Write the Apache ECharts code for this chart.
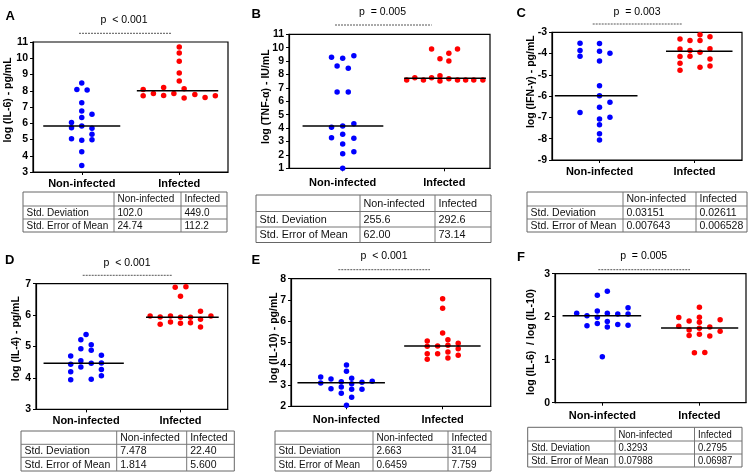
<!DOCTYPE html>
<html><head><meta charset="utf-8">
<script src="https://cdn.jsdelivr.net/npm/echarts@6/dist/echarts.min.js"></script>
<style>html,body{margin:0;padding:0;background:#fff}#c{width:750px;height:475px}</style>
</head><body><div id="c"></div>
<script>
// ---------------- DATA ----------------
const categories = ['Non-infected', 'Infected'];
const panelLetters = ['A', 'B', 'C', 'D', 'E', 'F'];
const yAxisNames = ['log (IL-6) - pg/mL', 'log (TNF-\u03b1) - IU/mL', 'log (IFN-\u03b3) - pg/mL',
                    'log (IL-4) - pg/mL', 'log (IL-10) - pg/mL', 'log (IL-6)  / log (IL-10)'];
const pValues = ['p  < 0.001', 'p  = 0.005', 'p  = 0.003', 'p  < 0.001', 'p  < 0.001', 'p  = 0.005'];
const yRanges = [[3, 11], [1, 11], [-9, -3], [3, 7], [2, 8], [0, 3]];

// each point: [jitter from group centre (axis units), value]
const A_nonInfected = [[0,8.48],[-0.10,8.08],[0.11,8.04],[0,7.26],[0,6.75],[0,6.36],[0.21,6.56],[-0.21,6.05],[-0.21,5.72],[0,5.83],[0.21,5.69],[0.21,5.32],[-0.21,5.05],[0,4.95],[0.21,4.99],[0,4.25],[0,3.40]];
const A_infected = [[0,10.69],[0,10.33],[0,9.82],[0,9.10],[0,8.60],[-0.74,8.08],[-0.74,7.69],[-0.53,7.83],[-0.32,8.20],[-0.32,7.71],[-0.11,7.83],[0.10,8.12],[0.10,7.55],[0.32,7.77],[0.53,7.59],[0.74,7.69]];
const B_nonInfected = [[-0.22,9.28],[0,9.21],[0.22,9.40],[-0.11,8.63],[0.11,8.46],[-0.11,6.69],[0.11,6.69],[-0.22,4.06],[0,4.16],[0.22,4.33],[-0.22,3.28],[0,3.54],[0.22,3.24],[0,2.81],[0,2.09],[0.22,2.24],[0,1.0]];
const B_infected = [[-0.25,9.90],[0.26,9.90],[0.09,9.58],[-0.085,9.18],[0.09,9.01],[-0.74,7.59],[-0.58,7.76],[-0.41,7.59],[-0.25,7.76],[-0.085,7.91],[-0.085,7.51],[0.09,7.69],[0.26,7.59],[0.42,7.59],[0.58,7.59],[0.76,7.59]];
const C_nonInfected = [[-0.41,-3.52],[0,-3.53],[-0.41,-3.86],[0,-3.89],[0.22,-3.99],[-0.41,-4.13],[0,-4.35],[0,-5.51],[0,-5.98],[0.22,-6.29],[0,-6.52],[-0.41,-6.77],[0.22,-6.99],[0,-7.07],[0,-7.34],[0,-7.77],[0,-8.06]];
const C_infected = [[0.116,-3.11],[0.326,-3.21],[-0.305,-3.31],[-0.095,-3.38],[0.116,-3.39],[-0.305,-3.78],[-0.095,-3.85],[0.326,-3.77],[0.116,-3.94],[-0.305,-4.14],[-0.095,-4.13],[0.326,-4.25],[-0.305,-4.46],[0.326,-4.58],[0.116,-4.64],[-0.305,-4.78]];
const D_nonInfected = [[0,5.38],[-0.11,5.22],[0.11,5.06],[-0.11,4.93],[0.11,4.88],[-0.325,4.70],[0.325,4.72],[-0.11,4.55],[-0.11,4.35],[-0.325,4.44],[0.11,4.47],[0.325,4.48],[0.325,4.27],[-0.325,4.20],[0.325,4.07],[-0.325,3.94],[0.11,3.96]];
const D_infected = [[-0.112,6.89],[0.115,6.90],[0,6.60],[-0.643,5.97],[-0.43,5.94],[-0.212,5.97],[0,5.93],[0.212,5.93],[0.424,6.12],[0.424,5.87],[0.645,5.97],[-0.43,5.71],[-0.212,5.78],[0,5.74],[0.212,5.76],[0.424,5.62]];
const E_nonInfected = [[0,3.94],[0,3.65],[-0.536,3.38],[-0.322,3.28],[0.108,3.32],[0.536,3.18],[-0.536,3.10],[-0.108,3.16],[0.322,3.13],[0.108,3.06],[-0.322,2.83],[-0.108,2.91],[0.108,2.80],[0.322,2.80],[-0.108,2.61],[0.108,2.42],[0,2.05]];
const E_infected = [[0,7.06],[0,6.61],[0,5.45],[-0.32,5.07],[0.11,5.13],[0.324,4.96],[-0.32,4.82],[-0.104,4.84],[0.11,4.87],[0.324,4.71],[-0.32,4.47],[-0.104,4.47],[0.11,4.55],[0.324,4.40],[-0.32,4.21],[0.11,4.27]];
const F_nonInfected = [[0.103,2.59],[-0.103,2.50],[-0.528,2.08],[-0.316,2.02],[-0.103,2.13],[-0.103,1.99],[0.103,2.08],[0.318,2.06],[0.53,2.21],[0.53,2.06],[-0.316,1.79],[-0.103,1.84],[0.103,1.89],[0.103,1.76],[0.318,1.82],[0.53,1.80],[0,1.07]];
const F_infected = [[0,2.22],[-0.425,1.98],[0,1.99],[-0.212,1.90],[0.427,1.93],[0,1.87],[-0.425,1.78],[-0.212,1.69],[0,1.73],[0.214,1.76],[0.427,1.66],[-0.212,1.56],[0,1.59],[0.214,1.55],[-0.103,1.16],[0.111,1.17]];

const nonInfectedMedians = [5.83, 4.16, -5.98, 4.47, 3.11, 2.02];
const infectedMedians = [8.00, 7.72, -3.89, 5.93, 4.84, 1.74];

const tableRowNames = ['Std. Deviation', 'Std. Error of Mean'];
const stdDeviation = [['102.0','449.0'],['255.6','292.6'],['0.03151','0.02611'],['7.478','22.40'],['2.663','31.04'],['0.3293','0.2795']];
const stdErrorOfMean = [['24.74','112.2'],['62.00','73.14'],['0.007643','0.006528'],['1.814','5.600'],['0.6459','7.759'],['0.07988','0.06987']];

const nonInfectedSets = [A_nonInfected, B_nonInfected, C_nonInfected, D_nonInfected, E_nonInfected, F_nonInfected];
const infectedSets = [A_infected, B_infected, C_infected, D_infected, E_infected, F_infected];

// ---------------- LAYOUT ----------------
const layout = [
  {grid:[33,42,195,130], xr:[0,4], lab:6.5, letter:[5.5,16], p:[124,20.5], dash:[79,171,33.3], yname:[7.8,100],
   spans:[[-0.79,0.79],[-0.87,0.8]], tb:{x:[23,114,181,227], y:[192,206,219,232], fs:10, sx:1}},
  {grid:[289,34.3,201,134], xr:[-0.057,3.9], lab:9.5, letter:[251.5,14.2], p:[382.5,12.2], dash:[335,431.7,25], yname:[266.2,96.7],
   spans:[[-0.79,0.8],[-0.79,0.82]], tb:{x:[256,360,435,491], y:[195,211.5,227,242.5], fs:11.5, sx:0.94}},
  {grid:[552,32.3,190,127.7], xr:[0,4], lab:6, letter:[516.5,13.8], p:[637,11.7], dash:[592.7,682.7,24], yname:[531,81.7],
   spans:[[-0.94,0.8],[-0.6,0.8]], tb:{x:[527,623,696,747], y:[192,206,219,232], fs:10.5, sx:1}},
  {grid:[36,283.7,191.7,125.7], xr:[-0.06,4], lab:6, letter:[5,260.3], p:[127,262.8], dash:[82.7,171.7,275.3], yname:[16.2,338.7],
   spans:[[-0.9,0.8],[-0.73,0.81]], tb:{x:[21,116.7,186.7,234.3], y:[431,444.3,457.3,471], fs:10.5, sx:1}},
  {grid:[291,278.7,199.7,127.6], xr:[-0.154,4], lab:8, letter:[251.5,260.8], p:[384,256.5], dash:[338.3,430,269.7], yname:[274,337.8],
   spans:[[-1.02,0.8],[-0.8,0.79]], tb:{x:[275,373,448,491], y:[431,444.3,457.3,471], fs:10.5, sx:0.95}},
  {grid:[555,273.7,191,129], xr:[0.025,3.96], lab:7.5, letter:[517,257], p:[643.7,256.2], dash:[598.3,690,269.7], yname:[531,342],
   spans:[[-0.82,0.8],[-0.79,0.8]], tb:{x:[527.7,615,694.5,742], y:[427.3,441,454,467], fs:11, sx:0.86}}
];

const FONT = '"Liberation Sans", Arial, Helvetica, sans-serif';
const BLUE = '#0000ff', RED = '#ff0000';
const centers = [1, 3];

const grids = [], xAxes = [], yAxes = [], series = [], graphics = [];

function txt(x, y, text, font, align, valign, extra, fill) {
  return Object.assign({
    type: 'text', x: x, y: y, silent: true,
    style: { x: 0, y: 0, text: text, font: font, fill: fill || '#000',
             align: align, verticalAlign: valign, textAlign: align, textVerticalAlign: valign }
  }, extra || {});
}

layout.forEach((L, i) => {
  grids.push({ left: L.grid[0], top: L.grid[1], width: L.grid[2], height: L.grid[3],
               show: true, borderColor: '#000', borderWidth: 1.2, backgroundColor: 'transparent', containLabel: false });
  xAxes.push({
    gridIndex: i, type: 'value', min: L.xr[0], max: L.xr[1],
    axisLine: { show: true, onZero: false, lineStyle: { color: '#000', width: 1.2 } },
    axisTick: { show: true, customValues: centers, length: 3, lineStyle: { color: '#000', width: 1 } },
    axisLabel: { show: true, customValues: centers, margin: L.lab,
                 formatter: v => categories[v < 2 ? 0 : 1],
                 fontFamily: FONT, fontWeight: 'bold', fontSize: 11, color: '#000' },
    splitLine: { show: false }
  });
  yAxes.push({
    gridIndex: i, type: 'value', min: yRanges[i][0], max: yRanges[i][1], interval: 1,
    axisLine: { show: true, onZero: false, lineStyle: { color: '#000', width: 1.2 } },
    axisTick: { show: true, length: 3, lineStyle: { color: '#000', width: 1 } },
    axisLabel: { margin: 5, fontFamily: FONT, fontWeight: 'bold', fontSize: 10.5, color: '#000' },
    splitLine: { show: false }
  });
  const groups = [nonInfectedSets[i], infectedSets[i]];
  const meds = [nonInfectedMedians[i], infectedMedians[i]];
  const cols = [BLUE, RED];
  groups.forEach((g, k) => {
    series.push({
      type: 'scatter', xAxisIndex: i, yAxisIndex: i, symbol: 'circle', symbolSize: 5.5,
      itemStyle: { color: cols[k], opacity: 1 }, silent: true, z: 3,
      data: g.map(d => [centers[k] + d[0], d[1]])
    });
    series.push({
      type: 'line', xAxisIndex: i, yAxisIndex: i, symbol: 'none', silent: true, z: 4,
      lineStyle: { color: '#000', width: 1.5 },
      data: [[centers[k] + L.spans[k][0], meds[k]], [centers[k] + L.spans[k][1], meds[k]]]
    });
  });

  graphics.push(txt(L.letter[0], L.letter[1], panelLetters[i], 'bold 13px ' + FONT, 'left', 'middle'));
  graphics.push(txt(L.p[0], L.p[1], pValues[i], '10.5px ' + FONT, 'center', 'middle'));
  graphics.push({ type: 'line', silent: true,
    shape: { x1: L.dash[0], y1: L.dash[2], x2: L.dash[1], y2: L.dash[2] },
    style: { stroke: '#555', lineWidth: 1, lineDash: [2, 1] } });
  graphics.push(txt(L.yname[0], L.yname[1], yAxisNames[i], 'bold 10.5px ' + FONT, 'center', 'middle',
    { rotation: Math.PI / 2 }));

  // table
  const T = L.tb;
  const X = T.x, Y = T.y;
  graphics.push({ type: 'rect', silent: true, shape: { x: X[0], y: Y[0], width: X[3] - X[0], height: Y[3] - Y[0] },
    style: { fill: 'none', stroke: '#666', lineWidth: 1 } });
  [X[1], X[2]].forEach(xx => graphics.push({ type: 'line', silent: true,
    shape: { x1: xx, y1: Y[0], x2: xx, y2: Y[3] }, style: { stroke: '#777', lineWidth: 1 } }));
  [Y[1], Y[2]].forEach(yy => graphics.push({ type: 'line', silent: true,
    shape: { x1: X[0], y1: yy, x2: X[3], y2: yy }, style: { stroke: '#777', lineWidth: 1 } }));
  const tf = T.fs + 'px ' + FONT;
  const cell = (c, r, s) => graphics.push(txt(X[c] + 3.5, (Y[r] + Y[r + 1]) / 2 + 0.5, s, tf, 'left', 'middle',
    { scaleX: T.sx }, '#111'));
  cell(1, 0, categories[0]); cell(2, 0, categories[1]);
  cell(0, 1, tableRowNames[0]); cell(1, 1, stdDeviation[i][0]); cell(2, 1, stdDeviation[i][1]);
  cell(0, 2, tableRowNames[1]); cell(1, 2, stdErrorOfMean[i][0]); cell(2, 2, stdErrorOfMean[i][1]);
});

const chart = echarts.init(document.getElementById('c'), null, { renderer: 'canvas', width: 750, height: 475 });
chart.setOption({
  backgroundColor: '#fff',
  animation: false,
  grid: grids, xAxis: xAxes, yAxis: yAxes, series: series,
  graphic: { elements: graphics }
});
</script></body></html>
